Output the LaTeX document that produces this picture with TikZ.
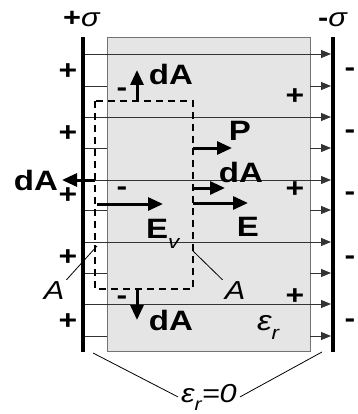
\documentclass[tikz,border=0pt]{standalone}
\usepackage{fontspec}
\setmainfont{Liberation Sans}[FakeStretch=1.18]
\usetikzlibrary{arrows.meta}
\begin{document}
\begin{tikzpicture}[x=1pt, y=-1pt,
  fline/.style={draw=black!80, line width=0.9pt, -{Triangle[length=10pt,width=8pt]}},
  vec/.style={line width=3pt, -{Triangle[length=15pt,width=13pt]}},
  big/.style={font=\fontsize{28}{30}\selectfont\bfseries, inner sep=0pt},
  chg/.style={font=\fontsize{27}{30}\selectfont\bfseries, inner sep=0pt},
  lbl/.style={font=\fontsize{26}{28}\selectfont\itshape, inner sep=2pt}]
\useasboundingbox (0,0) rectangle (357,414);
\fill[gray!20] (107,38) rectangle (310,351);
\draw[black!55, line width=1pt] (107,38) rectangle (310,351);
\foreach \y in {54,117,180,242,304} \draw[fline] (83,\y) -- (331,\y);
\foreach \y in {86,148,210,273,336} {
  \draw[black!80, line width=0.9pt] (83,\y) -- (107,\y);
  \draw[fline] (310,\y) -- (331,\y);
}
\draw[line width=4pt] (83,37) -- (83,352);
\draw[line width=4pt] (333,37) -- (333,352);
\draw[line width=1.3pt, dash pattern=on 7pt off 5pt] (95,101) rectangle (193,289);
\foreach \y in {72,134,196,258,322} \node[chg] (p\y) at (68,\y) {+};
\foreach \y in {70,132,193,257,320} \node[chg, anchor=base] (m\y) at (350,\y+7) {-};
\foreach \y in {97,190,297} \node[chg] (q\y) at (295,\y) {+};
\foreach \y in {90,188,297} \node[chg, anchor=base] (n\y) at (122,\y+7) {-};
\draw[vec] (137,101) -- (137,70);
\node[big] (dAtop) at (171,74) {dA};
\draw[vec] (95,180) -- (62,180);
\node[big] (dAleft) at (36,180) {dA};
\draw[vec] (137,289) -- (137,320);
\node[big] (dAbot) at (171,320) {dA};
\draw[vec] (97,204) -- (163,204);
\node[big, anchor=base west] (Ev) at (146,238) {E\raisebox{-10pt}{\fontsize{19}{20}\selectfont\mdseries\itshape v}};
\draw[vec] (193,148) -- (232,148);
\node[big] (P) at (240,131) {P};
\draw[vec] (193,188) -- (225,188);
\node[big] (dAright) at (241,172) {dA};
\draw[vec] (193,203) -- (248,203);
\node[big] (E) at (248,227) {E};
\node[anchor=base west, inner sep=0pt, font=\fontsize{26}{28}\selectfont] (sigp) at (63,27) {\textbf{+}\textit{σ}};
\node[anchor=base west, inner sep=0pt, font=\fontsize{26}{28}\selectfont] (sigm) at (318,27) {\textbf{-}\textit{σ}};
\node[lbl] (Al) at (54,291) {A};
\node[lbl] (Ar) at (235,291) {A};
\coordinate (boxl) at (97,246);
\coordinate (boxr) at (193,251);
\draw[line width=0.8pt] (Al.north east) -- (boxl);
\draw[line width=0.8pt] (Ar.north west) -- (boxr);
\node[anchor=base west, inner sep=0pt, font=\fontsize{28}{30}\selectfont\itshape] (epsr) at (257,330) {ε\raisebox{-9pt}{\fontsize{19}{20}\selectfont r}};
\node[anchor=base, inner sep=3pt, font=\fontsize{26}{28}\selectfont\itshape] (eps0) at (209,402) {ε\raisebox{-8pt}{\fontsize{18}{20}\selectfont r}=0};
\coordinate (gl) at (93,353);
\coordinate (gr) at (322,352);
\draw[line width=0.8pt] (eps0.west) -- (gl);
\draw[line width=0.8pt] (eps0.east) -- (gr);
\end{tikzpicture}
\end{document}
